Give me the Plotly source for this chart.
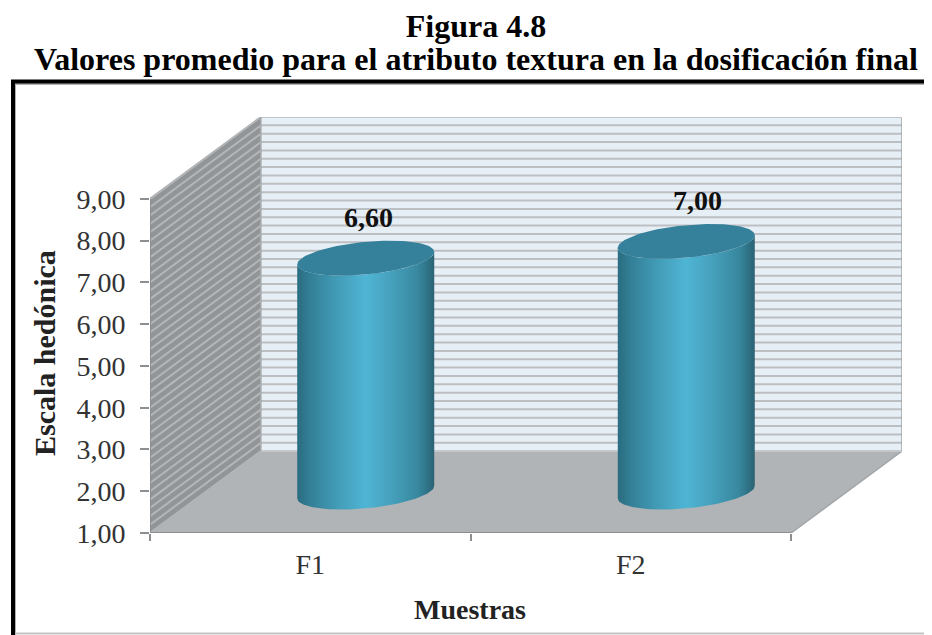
import numpy as np
import plotly.graph_objects as go

categories = ['F1', 'F2']
values = [6.60, 7.00]
value_labels = ['6,60', '7,00']
y_ticks = [1, 2, 3, 4, 5, 6, 7, 8, 9]
y_tick_labels = ['1,00', '2,00', '3,00', '4,00', '5,00', '6,00', '7,00', '8,00', '9,00']

FONT = 'Liberation Serif'
depth_x = 0.346
depth_y = 1.96
y_base = 1
y_max = 9
bar_half = 0.2137
ell_b = 0.39
ell_shear = 0.15

# la pagina deja 8px de margen en el body
PAGE = 8
fig_w, fig_h = 924, 627
m_l, m_r, m_t, m_b = 142, 30, 109, 102
plot_w = fig_w - m_l - m_r
plot_h = fig_h - m_t - m_b


def px(x):
    return (x - PAGE - m_l) / plot_w


def py(y):
    return (fig_h - m_b - (y - PAGE)) / plot_h


fig = go.Figure()


def poly(x, y, fill, line_color=None, line_width=0):
    fig.add_trace(go.Scatter(
        x=x, y=y, mode='lines', fill='toself', fillcolor=fill,
        line=dict(color=line_color or fill, width=line_width),
        hoverinfo='skip', showlegend=False))


def lines(x, y, color, width):
    fig.add_trace(go.Scatter(
        x=x, y=y, mode='lines', line=dict(color=color, width=width),
        hoverinfo='skip', showlegend=False))


n_cat = len(categories)

# paredes y piso del grafico 3D
poly([depth_x, n_cat + depth_x, n_cat + depth_x, depth_x, depth_x],
     [y_base + depth_y, y_base + depth_y, y_max + depth_y, y_max + depth_y, y_base + depth_y],
     '#e7eff6')
poly([0, depth_x, depth_x, 0, 0],
     [y_base, y_base + depth_y, y_max + depth_y, y_max, y_base],
     '#929598')

# lineas de division cada 0,2
back_x, back_y, side_x, side_y = [], [], [], []
for g in np.arange(y_base, y_max + 0.01, 0.2):
    back_x += [depth_x, n_cat + depth_x, None]
    back_y += [g + depth_y, g + depth_y, None]
    side_x += [0, depth_x, None]
    side_y += [g, g + depth_y, None]
lines(back_x, back_y, '#bcbfc2', 2)
lines(side_x, side_y, '#b4b6b8', 2)

poly([0, n_cat, n_cat + depth_x, depth_x, 0],
     [y_base, y_base, y_base + depth_y, y_base + depth_y, y_base],
     '#b1b4b6')
lines([n_cat, n_cat + depth_x, n_cat + depth_x], [y_base, y_base + depth_y, y_max + depth_y], '#a3a6a8', 1.5)
lines([depth_x, n_cat + depth_x], [y_base + depth_y, y_base + depth_y], '#c4c7c9', 1.5)
lines([0, depth_x], [y_max, y_max + depth_y], '#b3b5b7', 1.5)
lines([depth_x, n_cat + depth_x], [y_max + depth_y, y_max + depth_y], '#c4c7c9', 1.5)
lines([depth_x, depth_x], [y_base + depth_y, y_max + depth_y], '#a9acae', 1.5)
lines([0, 0, n_cat], [y_max, y_base, y_base], '#8c8f91', 2)

# cilindros
side_scale = [[0, '#2a6c80'], [0.1, '#338097'], [0.3, '#439db8'], [0.5, '#4fb5d5'],
              [0.7, '#459fba'], [0.88, '#38889f'], [0.96, '#2e7084'], [1, '#2a6272']]
t_front = np.linspace(np.pi, 2 * np.pi, 60)
t_all = np.linspace(0, 2 * np.pi, 120)
for i, v in enumerate(values):
    cx = i + 0.5 + depth_x / 2
    y0 = y_base + depth_y / 2
    y1 = y0 + (v - y_base)
    bx = cx + bar_half * np.cos(t_front)
    off = ell_b * np.sin(t_front) + ell_shear * np.cos(t_front)
    fig.add_trace(go.Scatter(
        x=np.concatenate([bx, bx[::-1], bx[:1]]),
        y=np.concatenate([y0 + off, (y1 + off)[::-1], [y0 + off[0]]]),
        mode='lines', fill='toself', line=dict(width=0, color='#338097'),
        fillgradient=dict(type='horizontal', colorscale=side_scale),
        hoverinfo='skip', showlegend=False))
    poly(cx + bar_half * np.cos(t_all),
         y1 + ell_b * np.sin(t_all) + ell_shear * np.cos(t_all),
         '#35809a')

label_shift = [3, 11]
for i, v in enumerate(values):
    fig.add_annotation(
        x=i + 0.5 + depth_x / 2, y=y_base + depth_y / 2 + (v - y_base),
        text='<b>' + value_labels[i] + '</b>', showarrow=False,
        xshift=label_shift[i], yshift=41,
        font=dict(family=FONT, size=28, color='#111111'))

title_font = dict(family=FONT, size=32, color='black')
fig.update_layout(
    width=fig_w, height=fig_h,
    margin=dict(l=m_l, r=m_r, t=m_t, b=m_b, pad=0),
    paper_bgcolor='white', plot_bgcolor='white',
    showlegend=False,
    font=dict(family=FONT, size=28, color='#333333'),
    title=dict(text='<b>Figura 4.8</b>', font=title_font, xref='container', yref='container',
               x=(476 - PAGE) / fig_w, xanchor='center',
               y=1 - (26 - PAGE) / fig_h, yanchor='middle'),
    xaxis=dict(
        range=[0, n_cat + depth_x], showgrid=False, zeroline=False, showline=False,
        tickmode='array', tickvals=[i + 0.5 for i in range(n_cat)], ticktext=categories,
        ticks='', ticklabelstandoff=12,
        minor=dict(tickmode='array', tickvals=list(range(n_cat + 1)), ticks='outside',
                   ticklen=7, tickwidth=2, tickcolor='#8c8f91', showgrid=False),
        tickfont=dict(family=FONT, size=28, color='#333333')),
    yaxis=dict(
        range=[y_base, y_max + depth_y], showgrid=False, zeroline=False, showline=False,
        tickmode='array', tickvals=y_ticks, ticktext=y_tick_labels,
        ticks='outside', ticklen=9, tickwidth=2, tickcolor='#8c8f91', ticklabelstandoff=9,
        tickfont=dict(family=FONT, size=28, color='#333333')),
    shapes=[
        # marco
        dict(type='line', xref='paper', yref='paper', x0=px(15), x1=px(932), y0=py(84), y1=py(84),
             line=dict(color='#b0b0b0', width=2)),
        dict(type='line', xref='paper', yref='paper', x0=px(11), x1=px(932), y0=py(81.5), y1=py(81.5),
             line=dict(color='black', width=4)),
        dict(type='line', xref='paper', yref='paper', x0=px(13), x1=px(13), y0=py(635), y1=py(80),
             line=dict(color='black', width=4)),
        dict(type='line', xref='paper', yref='paper', x0=px(15.5), x1=px(15.5), y0=py(635), y1=py(84),
             line=dict(color='#b0b0b0', width=1)),
        dict(type='line', xref='paper', yref='paper', x0=px(15), x1=px(932), y0=py(633.5), y1=py(633.5),
             line=dict(color='#c4c4c4', width=2)),
    ],
)

fig.add_annotation(xref='paper', yref='paper', x=px(476), y=py(59), xanchor='center', yanchor='middle',
                   text='<b>Valores promedio para el atributo textura en la dosificación final</b>',
                   showarrow=False, font=title_font)
fig.add_annotation(xref='paper', yref='paper', x=px(44), y=py(353), xanchor='center', yanchor='middle',
                   textangle=-90, text='<b>Escala hedónica</b>', showarrow=False,
                   font=dict(family=FONT, size=30, color='#222222'))
fig.add_annotation(xref='paper', yref='paper', x=px(470), y=py(609.5), xanchor='center', yanchor='middle',
                   text='<b>Muestras</b>', showarrow=False,
                   font=dict(family=FONT, size=28, color='#222222'))

fig.write_html("out.html")
